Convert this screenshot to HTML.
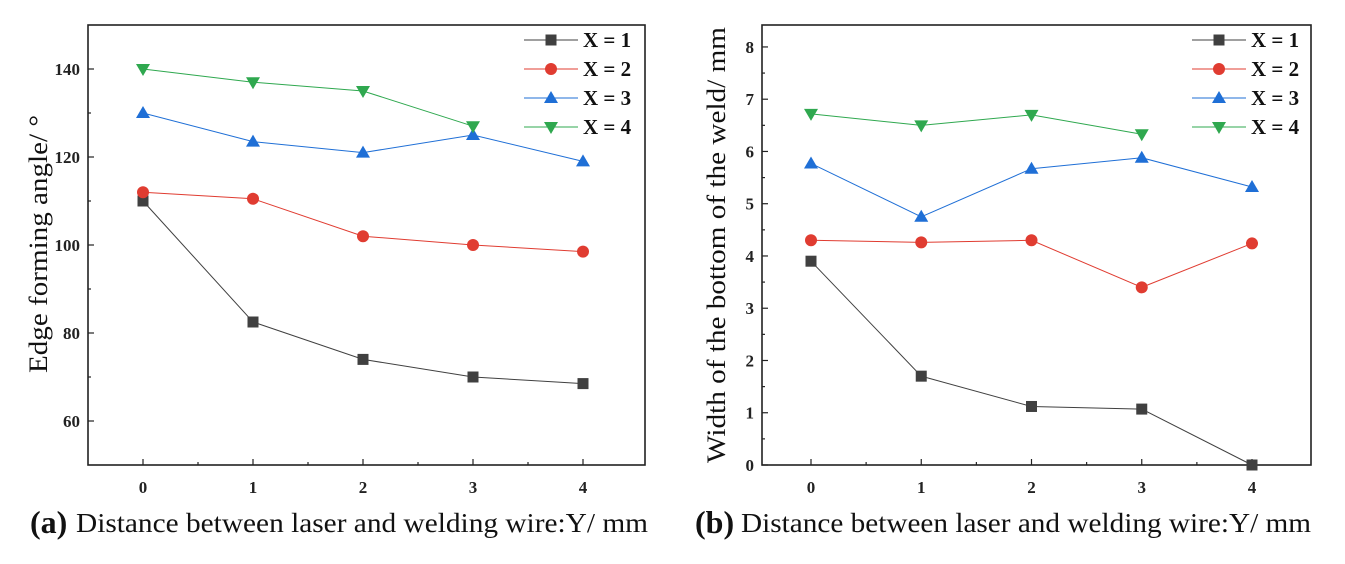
<!DOCTYPE html>
<html><head><meta charset="utf-8"><style>
html,body{margin:0;padding:0;background:#fff;}
svg{display:block;font-family:"Liberation Serif",serif;}
</style></head><body>
<svg id="fig" width="1345" height="564" viewBox="0 0 1345 564" xmlns="http://www.w3.org/2000/svg"></svg>
<script>
const categories = [0, 1, 2, 3, 4];
const seriesNames = ["X = 1", "X = 2", "X = 3", "X = 4"];
const aX1 = [110, 82.5, 74, 70, 68.5];
const aX2 = [112, 110.5, 102, 100, 98.5];
const aX3 = [130, 123.5, 121, 125, 119];
const aX4 = [140, 137, 135, 127];
const bX1 = [3.9, 1.7, 1.12, 1.07, 0];
const bX2 = [4.3, 4.26, 4.3, 3.4, 4.24];
const bX3 = [5.77, 4.75, 5.67, 5.88, 5.32];
const bX4 = [6.72, 6.5, 6.7, 6.33];
const aTicks = [60, 80, 100, 120, 140];
const bTicks = [0, 1, 2, 3, 4, 5, 6, 7, 8];

const NS = "http://www.w3.org/2000/svg";
const svg = document.getElementById('fig');
const colors = ["#404040", "#e03c31", "#1f6fd6", "#2fa84f"];
const markers = ["square", "circle", "up", "down"];
function el(tag, attrs, parent, text) {
  const e = document.createElementNS(NS, tag);
  for (const k in attrs) e.setAttribute(k, attrs[k]);
  if (text !== undefined) e.textContent = text;
  (parent || svg).appendChild(e);
  return e;
}
function marker(g, type, x, y, c) {
  let m;
  if (type === "square") m = el("rect", {x: x-5.5, y: y-5.5, width: 11, height: 11, fill: c}, g);
  else if (type === "circle") m = el("circle", {cx: x, cy: y, r: 6, fill: c}, g);
  else if (type === "up") m = el("polygon", {points: `${x},${y-7} ${x-7},${y+5} ${x+7},${y+5}`, fill: c}, g);
  else m = el("polygon", {points: `${x},${y+7} ${x-7},${y-5} ${x+7},${y-5}`, fill: c}, g);
  return m;
}
function panel(cfg) {
  const g = el("g", {});
  
  
  const xs = v => cfg.x0 + (v - 0) * (cfg.x4 - cfg.x0) / 4;
  const ys = v => cfg.bottom - (v - cfg.ymin) * (cfg.bottom - cfg.top) / (cfg.ymax - cfg.ymin);
  const frame = el("rect", {x: cfg.left, y: cfg.top, width: cfg.right - cfg.left, height: cfg.bottom - cfg.top, fill: "none", stroke: "#222", "stroke-width": 1.6}, g);
  
  
  for (let i = 0; i < categories.length; i++) {
    const x = xs(categories[i]);
    el("line", {x1: x, x2: x, y1: cfg.bottom, y2: cfg.bottom - 6, stroke: "#222", "stroke-width": 1.2}, g);
    if (i < categories.length - 1) {
      const xm = xs(categories[i] + 0.5);
      el("line", {x1: xm, x2: xm, y1: cfg.bottom, y2: cfg.bottom - 3, stroke: "#222", "stroke-width": 1.2}, g);
    }
    const t = el("text", {x: x, y: cfg.bottom + 28, "text-anchor": "middle", "font-size": 17, "font-weight": "bold", fill: "#222"}, g, String(categories[i]));
    
    
  }
  for (let i = 0; i < cfg.ticks.length; i++) {
    const y = ys(cfg.ticks[i]);
    el("line", {x1: cfg.left, x2: cfg.left + 6, y1: y, y2: y, stroke: "#222", "stroke-width": 1.2}, g);
    const t = el("text", {x: cfg.left - 8, y: y + 6, "text-anchor": "end", "font-size": 17, "font-weight": "bold", fill: "#222"}, g, String(cfg.ticks[i]));
    
    
    if (i < cfg.ticks.length - 1) {
      const ym = ys((cfg.ticks[i] + cfg.ticks[i+1]) / 2);
      el("line", {x1: cfg.left, x2: cfg.left + 3, y1: ym, y2: ym, stroke: "#222", "stroke-width": 1.2}, g);
    }
  }
  const yt = el("text", {x: 0, y: 0, transform: `translate(${cfg.ytx},${cfg.ytc}) rotate(-90)`, "text-anchor": "middle", "font-size": 26, fill: "#111", textLength: cfg.ytl, lengthAdjust: "spacingAndGlyphs"}, g, cfg.ytitle);
  
  
  const lab = el("text", {x: cfg.capx, y: 533, "font-size": 32, "font-weight": "bold", fill: "#111"}, g, cfg.label);
  
  
  const cap = el("text", {x: cfg.capx + 46, y: 532, "font-size": 27, fill: "#111", textLength: cfg.capl, lengthAdjust: "spacingAndGlyphs"}, g, "Distance between laser and welding wire:Y/ mm");
  
  
  cfg.series.forEach((vals, si) => {
    const sg = el("g", {}, g);
    
    
    const pts = vals.map((v, i) => `${xs(categories[i])},${ys(v)}`).join(" ");
    el("polyline", {points: pts, fill: "none", stroke: colors[si], "stroke-width": 1}, sg);
    vals.forEach((v, i) => {
      const m = marker(sg, markers[si], xs(categories[i]), ys(v), colors[si]);
      
      
    });
  });
  const lg = el("g", {}, g);
  
  
  seriesNames.forEach((n, si) => {
    const y = 40 + si * 29;
    const eg = el("g", {}, lg);
    
    
    el("line", {x1: cfg.lgx, x2: cfg.lgx + 54, y1: y, y2: y, stroke: colors[si], "stroke-width": 1}, eg);
    marker(eg, markers[si], cfg.lgx + 27, y, colors[si]);
    el("text", {x: cfg.lgx + 59, y: y + 7, "font-size": 21, "font-weight": "bold", fill: "#111"}, eg, n);
  });
}
panel({name: "chart-a", left: 88, right: 645, top: 25, bottom: 465, x0: 143, x4: 583, ymin: 50, ymax: 150,
  ticks: aTicks, series: [aX1, aX2, aX3, aX4], ytitle: "Edge forming angle/ °", ytx: 47, ytc: 244, ytl: 258, capx: 30, capl: 572, label: "(a)", lgx: 524});
panel({name: "chart-b", left: 762, right: 1311, top: 25, bottom: 465, x0: 811, x4: 1252, ymin: 0, ymax: 8.42,
  ticks: bTicks, series: [bX1, bX2, bX3, bX4], ytitle: "Width of the bottom of the weld/ mm", ytx: 725, ytc: 245, ytl: 436, capx: 695, capl: 570, label: "(b)", lgx: 1192});
</script>
</body></html>
